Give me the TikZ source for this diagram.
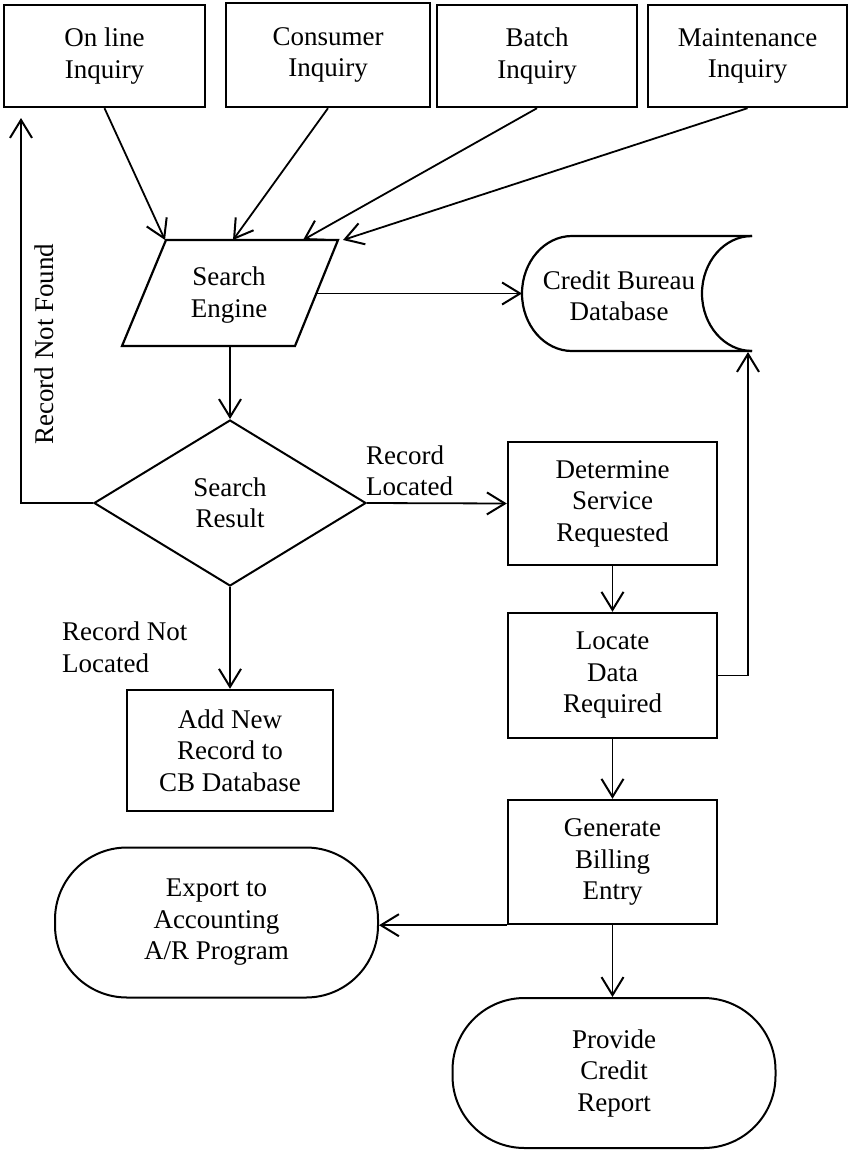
\documentclass[tikz,border=0pt]{standalone}
\usepackage{fontspec}
\setmainfont{Liberation Serif}
\usetikzlibrary{arrows.meta,shapes.geometric}
\begin{document}
\begin{tikzpicture}[x=1pt,y=-1pt,
  txt/.style={font=\fontsize{27}{31.5}\selectfont, align=center},
  box/.style={txt, draw, line width=2.4pt, rectangle, inner sep=0pt},
  term/.style={txt, draw, line width=2pt, rectangle, rounded corners=72pt, inner sep=0pt, minimum width=323pt, minimum height=150pt},
  dec/.style={txt, draw, line width=2pt, diamond, inner sep=0pt, minimum width=272pt, minimum height=166pt},
  shp/.style={line width=2.2pt, line join=miter},
  conn/.style={line width=1.8pt, -{Straight Barb[length=18pt,width=22pt,line width=2pt]}},
  lbl/.style={font=\fontsize{27}{31.5}\selectfont, align=left, inner sep=0pt}
]
\useasboundingbox[fill=white] (0,0) rectangle (849,1156);

% top inquiry boxes
\node[box, minimum width=201pt, minimum height=102pt] (on)  at (104.5,56) {On line\\Inquiry};
\node[box, minimum width=204pt, minimum height=104pt] (con) at (328,55)   {Consumer\\Inquiry};
\node[box, minimum width=200pt, minimum height=102pt] (bat) at (537,56)   {Batch\\Inquiry};
\node[box, minimum width=199pt, minimum height=102pt] (mai) at (747.5,56) {Maintenance\\Inquiry};

% search engine (parallelogram)
\coordinate (seTL) at (166,240);
\coordinate (seTR) at (338,240);
\coordinate (seBR) at (295,346);
\coordinate (seBL) at (122,346);
\draw[shp] (seTL) -- (seTR) -- (seBR) -- (seBL) -- cycle;
\node[txt] (se) at (229,295) {Search\\Engine};
\coordinate (seIn1) at (165,240);
\coordinate (seIn2) at (233,240);
\coordinate (seIn3) at (303,240);
\coordinate (seIn4) at (343,240);
\coordinate (seR) at (316.5,293.5);
\coordinate (seB) at (230,346);

% credit bureau database (stored data)
\draw[shp] (752,236) -- (572,236)
  .. controls (544.4,236) and (522,261.8) .. (522,293.5)
  .. controls (522,325.2) and (544.4,351) .. (572,351) -- (752,351);
\draw[shp] (752,236) .. controls (724.4,236) and (702,261.8) .. (702,293.5)
  .. controls (702,325.2) and (724.4,351) .. (752,351);
\node[txt] (cbd) at (619,296) {Credit Bureau\\Database};
\coordinate (cbdL) at (522,293.5);
\coordinate (cbdIn) at (748,352);

% decision
\node[dec] (sr) at (230,503) {Search\\Result};

% process boxes
\node[box, minimum width=209pt, minimum height=123pt] (det) at (612.5,503.5) {Determine\\Service\\Requested};
\node[box, minimum width=209pt, minimum height=125pt] (loc) at (612.5,675.5) {Locate\\Data\\Required};
\node[box, minimum width=209pt, minimum height=124pt] (gen) at (612.5,862)   {Generate\\Billing\\Entry};
\node[box, minimum width=206pt, minimum height=121pt] (add) at (230,750.5)   {Add New\\Record to\\CB Database};

% terminals
\node[term] (exp) at (216.5,922.5) {Export to\\Accounting\\A/R Program};
\node[term] (pro) at (614,1073)    {Provide\\Credit\\Report};

% connectors
\draw[conn] (on.south)  -- (seIn1);
\draw[conn] (con.south) -- (seIn2);
\draw[conn] (bat.south) -- (seIn3);
\draw[conn] (mai.south) -- (seIn4);
\draw[conn] (seR) -- (cbdL);
\draw[conn] (seB) -- (sr.north);

\coordinate (rnf) at (21,118);
\draw[conn] (sr.west) -| (rnf);
\node[lbl, rotate=90] at (44,344) {Record Not Found};

\draw[conn] (sr.east) -- (det.west);
\node[lbl, anchor=west] at (366,471) {Record\\Located};

\draw[conn] (sr.south) -- (add.north);
\node[lbl, anchor=west] at (62,647.5) {Record Not\\Located};

\draw[conn] (det.south) -- (loc.north);
\draw[conn] (loc.east) -| (cbdIn);
\draw[conn] (loc.south) -- (gen.north);
\draw[conn] (gen.south west) -- (exp.east |- gen.south west);
\draw[conn] (gen.south) -- (gen.south |- pro.north);
\end{tikzpicture}
\end{document}
